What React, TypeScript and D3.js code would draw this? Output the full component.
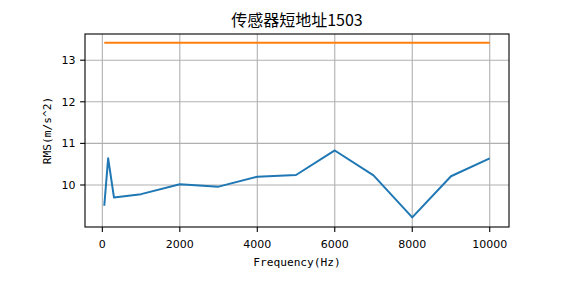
import React, { useEffect } from 'react'
import * as d3 from 'd3'

const freqs = [50, 150, 300, 1000, 2000, 3000, 4000, 5000, 6000, 7000, 8000, 9000, 10000]
const rms = [9.5, 10.64, 9.7, 9.78, 10.02, 9.96, 10.2, 10.24, 10.83, 10.23, 9.22, 10.21, 10.64]
const limitFreqs = [50, 10000]
const limitVals = [13.42, 13.42]
const xTicks = [0, 2000, 4000, 6000, 8000, 10000]
const yTicks = [10, 11, 12, 13]

const W = 565
const H = 283
const left = 85, right = 509, top = 34, bottom = 227

function App() {
  useEffect(() => {
    document.body.style.margin = '0'
  }, [])

  const x = d3.scaleLinear().domain([-447.5, 10497.5]).range([left, right])
  const y = d3.scaleLinear().domain([8.99, 13.63]).range([bottom, top])

  const line = d3.line<number>()
    .x((d, i) => x(freqs[i]))
    .y(d => y(d))
  const limitLine = d3.line<number>()
    .x((d, i) => x(limitFreqs[i]))
    .y(d => y(d))

  const tickFont = 'DejaVu Sans'
  const labelFont = '"DejaVu Sans Mono", monospace'
  const cjk = '"Noto Sans CJK SC", "DejaVu Sans"'

  return (
    <svg width={W} height={H} style={{ display: 'block', background: 'white' }}>
      <g className='grid'>
        {xTicks.map(t => (
          <line key={'gx' + t} x1={x(t)} x2={x(t)} y1={top} y2={bottom} stroke='#b0b0b0' strokeWidth={1.1} />
        ))}
        {yTicks.map(t => (
          <line key={'gy' + t} x1={left} x2={right} y1={y(t)} y2={y(t)} stroke='#b0b0b0' strokeWidth={1.1} />
        ))}
      </g>
      <path d={line(rms) || ''} fill='none' stroke='#1f77b4' strokeWidth={2} strokeLinejoin='round' />
      <path d={limitLine(limitVals) || ''} fill='none' stroke='#ff7f0e' strokeWidth={2} />
      <rect x={left} y={top} width={right - left} height={bottom - top} fill='none' stroke='black' strokeWidth={1.1} />
      <g className='xaxis'>
        {xTicks.map(t => (
          <g key={'xt' + t}>
            <line x1={x(t)} x2={x(t)} y1={bottom} y2={bottom + 4.9} stroke='black' strokeWidth={1.1} />
            <text x={x(t)} y={247.5} textAnchor='middle' fontSize={11} fontFamily={tickFont}>{t}</text>
          </g>
        ))}
      </g>
      <g className='yaxis'>
        {yTicks.map(t => (
          <g key={'yt' + t}>
            <line x1={left - 4.9} x2={left} y1={y(t)} y2={y(t)} stroke='black' strokeWidth={1.1} />
            <text x={75.5} y={y(t) + 4} textAnchor='end' fontSize={11} fontFamily={tickFont}>{t}</text>
          </g>
        ))}
      </g>
      <text x={(left + right) / 2} y={26} textAnchor='middle' fontSize={16} fontFamily={cjk}>传感器短地址1503</text>
      <text x={(left + right) / 2} y={266} textAnchor='middle' fontSize={11.2} fontFamily={labelFont}>Frequency(Hz)</text>
      <text transform={`translate(50.5,${(top + bottom) / 2}) rotate(-90)`} textAnchor='middle' fontSize={11.2} fontFamily={labelFont}>RMS(m/s^2)</text>
    </svg>
  )
}

export default App
